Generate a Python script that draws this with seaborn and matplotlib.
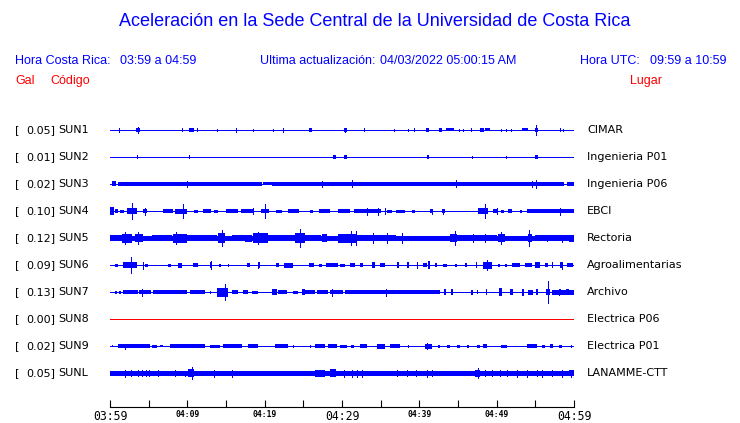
import matplotlib
matplotlib.use("Agg")
import matplotlib.pyplot as plt
import seaborn as sns

# station info
codes = ["SUN1", "SUN2", "SUN3", "SUN4", "SUN5", "SUN6", "SUN7", "SUN8", "SUN9", "SUNL"]
peaks = ["0.05", "0.01", "0.02", "0.10", "0.12", "0.09", "0.13", "0.00", "0.02", "0.05"]
places = ["CIMAR", "Ingenieria P01", "Ingenieria P06", "EBCI", "Rectoria",
          "Agroalimentarias", "Archivo", "Electrica P06", "Electrica P01", "LANAMME-CTT"]
tick_labels = ["03:59", "04:09", "04:19", "04:29", "04:39", "04:49", "04:59"]

# trace envelopes: blocks (start min, end min, half amp px), spikes (min, half amp px)
sun1_blocks = [(3.4, 3.9, 2), (10.2, 10.9, 2), (25.7, 26.1, 2), (30.2, 30.6, 2), (40.9, 41.3, 2),
               (42.5, 42.9, 2), (43.5, 44.5, 1.5), (47.9, 48.3, 2), (48.5, 49.1, 1.5),
               (53.3, 54.0, 1.5), (54.9, 55.4, 2)]
sun1_spikes = [(1.2, 2), (3.6, 3), (9.3, 1.5), (11.2, 1.5), (13.8, 1), (16.3, 2), (18.5, 1),
               (21.1, 1), (22.4, 2), (30.4, 2), (32.8, 1.5), (36.7, 1), (38.5, 1), (39.3, 1.5),
               (45.1, 1), (45.6, 1), (46.7, 1.5), (50.6, 1), (51.2, 1), (51.8, 1), (55.1, 5),
               (58.2, 1.5), (58.6, 1)]
sun2_blocks = [(28.8, 29.2, 2), (30.3, 30.6, 2), (41.0, 41.3, 2), (55.0, 55.3, 2)]
sun2_spikes = [(3.5, 1.5), (10.2, 1.5), (46.8, 1), (51.2, 1)]
sun3_blocks = [(0.3, 0.8, 2.5), (1.0, 19.6, 2), (19.8, 20.9, 1.5), (21.0, 58.7, 2), (59.1, 60.0, 2)]
sun3_spikes = [(10.0, 3), (27.4, 3), (31.3, 3.5), (44.7, 3.5), (54.6, 3), (55.1, 4)]
sun4_blocks = [(0.0, 0.5, 4), (0.6, 1.0, 2), (1.3, 1.8, 1.5), (2.2, 3.5, 3), (4.3, 4.8, 2),
               (6.8, 8.1, 2), (8.4, 10.0, 2.5), (10.8, 11.4, 1.5), (12.0, 13.0, 2), (13.4, 14.0, 1.5),
               (15.0, 16.5, 2), (17.0, 18.5, 2), (19.5, 20.5, 2), (21.5, 22.3, 1.5), (23.0, 24.5, 2),
               (25.8, 26.3, 1.5), (27.0, 28.5, 2), (29.5, 31.0, 2), (31.5, 35.0, 2), (35.8, 36.5, 1.5),
               (37.0, 38.2, 1.5), (39.0, 39.5, 1.5), (41.4, 41.8, 2), (42.9, 43.3, 2),
               (47.6, 48.9, 3), (49.5, 50.2, 2), (50.5, 51.0, 1.5), (51.5, 52.0, 2),
               (53.0, 53.3, 1.5), (53.9, 60.0, 2)]
sun4_spikes = [(2.8, 8), (4.5, 3.5), (9.4, 7), (18.5, 3), (20.1, 7), (33.2, 3.5), (34.7, 3.5),
               (35.6, 3), (41.6, 2.5), (43.1, 2.5), (48.5, 7), (50.0, 3), (58.2, 3.5)]
sun5_blocks = [(0.0, 60.0, 2.5), (0.0, 1.5, 3), (1.5, 2.8, 4.5), (3.2, 4.3, 4), (5.4, 8.0, 3),
               (8.1, 9.9, 4.5), (9.9, 13.9, 3), (14.0, 14.9, 5), (15.8, 17.5, 3), (17.5, 18.4, 3.5),
               (18.5, 20.4, 5), (20.4, 23.9, 3), (23.9, 25.2, 5), (25.2, 27.3, 3), (27.4, 28.1, 4),
               (29.5, 31.9, 4.5), (31.9, 37.0, 3), (44.0, 44.9, 4), (44.9, 50.0, 3),
               (50.2, 51.1, 4), (51.1, 53.8, 2.5), (54.0, 54.6, 4), (55.0, 60.0, 3), (59.3, 60.0, 3.5)]
sun5_spikes = [(1.9, 6), (3.6, 6), (8.5, 6), (14.5, 8), (19.2, 6), (24.6, 9), (31.2, 7), (31.8, 7),
               (34.0, 5), (35.8, 5), (37.7, 5), (44.6, 7), (46.9, 4), (48.5, 4), (50.6, 6),
               (54.2, 8), (56.5, 3), (58.5, 3.5)]
sun6_blocks = [(0.6, 1.0, 1.5), (1.7, 3.5, 3), (4.5, 4.9, 1.5), (7.5, 7.9, 1.5), (8.8, 9.3, 2.5),
               (10.7, 11.4, 2), (12.9, 13.2, 3), (14.1, 14.3, 1.5), (15.2, 15.4, 1.5), (17.7, 18.1, 2),
               (19.1, 19.4, 3), (21.5, 21.9, 2), (22.5, 23.7, 2.5), (25.7, 26.4, 2), (27.0, 27.4, 1.5),
               (27.9, 29.5, 2), (29.7, 30.4, 1.5), (31.0, 31.7, 2), (32.3, 32.7, 2), (33.9, 34.3, 3),
               (34.9, 35.6, 2), (37.1, 37.4, 3), (38.4, 38.7, 3), (40.5, 41.0, 2), (41.1, 41.4, 4),
               (42.0, 42.3, 2), (43.1, 43.6, 1.5), (44.6, 44.9, 1.5), (45.9, 46.2, 2), (47.3, 47.5, 3),
               (48.2, 49.4, 3.5), (50.2, 50.4, 1.5), (51.1, 51.3, 1.5), (52.0, 53.0, 2), (53.7, 54.6, 2),
               (55.0, 55.6, 3), (56.2, 56.6, 2), (57.1, 57.3, 3), (58.2, 58.6, 3), (59.1, 59.9, 2)]
sun6_spikes = [(2.7, 8), (4.3, 3.5), (13.0, 4), (19.2, 3), (39.7, 3), (48.8, 5), (58.4, 3.5)]
sun7_blocks = [(0.6, 0.9, 1.5), (1.2, 1.4, 1.5), (1.7, 3.6, 2), (3.8, 5.3, 2), (5.6, 10.0, 2),
               (10.3, 12.3, 2), (12.9, 13.1, 1.5), (13.8, 15.2, 4.5), (15.8, 16.6, 2), (17.2, 17.8, 2),
               (18.4, 19.1, 1.5), (21.0, 21.6, 3), (21.7, 22.9, 2), (23.7, 24.3, 1.5), (24.8, 25.2, 3),
               (25.2, 26.5, 2), (26.8, 28.2, 2), (28.4, 30.1, 2), (30.4, 42.7, 2), (43.2, 43.5, 3),
               (44.1, 44.3, 3), (46.7, 46.9, 2.5), (47.4, 47.6, 2), (48.6, 48.8, 3), (50.3, 50.7, 4),
               (51.7, 52.1, 3), (53.3, 53.5, 3.5), (54.0, 54.7, 2.5), (55.1, 55.3, 3), (56.4, 56.9, 3),
               (57.2, 60.0, 2.5), (58.0, 58.3, 3), (59.0, 59.3, 3)]
sun7_spikes = [(4.1, 3.5), (14.9, 8), (28.7, 3.5), (35.7, 3.5), (56.6, 11), (58.1, 3)]
sun8_blocks = []
sun8_spikes = []
sun9_blocks = [(0.3, 0.4, 1), (1.0, 5.2, 2), (5.4, 6.1, 1.5), (6.5, 6.9, 1), (7.8, 12.3, 2),
               (12.9, 14.2, 1.5), (14.6, 17.1, 2), (17.8, 19.1, 2), (21.3, 23.0, 2), (23.6, 23.8, 1.5),
               (25.8, 26.0, 1.5), (26.5, 27.8, 2), (28.2, 29.4, 2), (29.7, 30.6, 1.5), (31.2, 31.6, 1.5),
               (32.3, 33.2, 2), (34.5, 35.6, 2.5), (36.2, 37.5, 2), (38.5, 38.7, 1.5), (40.7, 41.6, 2.5),
               (42.4, 42.7, 1.5), (43.6, 44.0, 1.5), (44.9, 45.3, 1.5), (46.2, 46.4, 1.5),
               (47.4, 47.8, 1.5), (48.2, 48.7, 2), (50.6, 51.3, 1.5), (53.9, 55.2, 2), (55.8, 56.2, 1.5),
               (56.9, 57.3, 2), (58.1, 58.4, 1.5), (59.6, 59.8, 1.5)]
sun9_spikes = [(1.9, 2.5), (41.0, 3)]
sunl_blocks = [(0.0, 60.0, 2.5), (10.1, 10.8, 4), (26.5, 27.8, 3.5), (28.5, 29.2, 4), (47.2, 47.9, 3.5),
               (59.3, 60.0, 3)]
sunl_spikes = [(1.9, 3.5), (2.7, 3), (3.6, 3), (4.1, 3), (4.6, 3), (5.1, 3), (6.2, 3), (8.4, 3),
               (9.7, 2.5), (10.6, 6), (13.4, 3.5), (15.8, 3.5), (30.2, 3.5), (31.3, 3.5), (32.0, 3.5),
               (32.6, 3.5), (37.1, 3), (38.4, 3), (39.6, 3), (41.0, 3.5), (41.6, 3), (47.6, 5),
               (48.5, 3), (49.4, 3), (50.4, 3), (51.3, 3), (52.6, 3.5), (53.9, 3.5), (55.2, 3),
               (55.9, 3.5), (57.2, 3), (58.4, 3.5), (59.6, 3.5)]

blocks = [sun1_blocks, sun2_blocks, sun3_blocks, sun4_blocks, sun5_blocks,
          sun6_blocks, sun7_blocks, sun8_blocks, sun9_blocks, sunl_blocks]
spikes = [sun1_spikes, sun2_spikes, sun3_spikes, sun4_spikes, sun5_spikes,
          sun6_spikes, sun7_spikes, sun8_spikes, sun9_spikes, sunl_spikes]
trace_colors = ["blue"] * 7 + ["red"] + ["blue"] * 2

sns.set_theme(style="white")
plt.rcParams["font.family"] = ["DejaVu Sans"]
plt.rcParams["text.color"] = "black"

W, H = 740, 423
fig = plt.figure(figsize=(7.4, 4.23), dpi=100)
fig.patch.set_facecolor("white")

# axes in pixel-like units so amplitudes stay in px
ax = fig.add_axes([110 / W, 1 - 407 / H, 464 / W, 292 / H])
ax.set_xlim(0, 60)
ax.set_ylim(407, 115)
ax.set_facecolor("white")

row0, gap = 130, 27
for i in range(len(codes)):
    y = row0 + gap * i
    c = trace_colors[i]
    ax.hlines(y, 0, 60, color=c, lw=0.72, antialiased=False)
    for t0, t1, a in blocks[i]:
        ax.broken_barh([(t0, t1 - t0)], (y - a, 2 * a), facecolors=c, edgecolor="none",
                       antialiased=False)
    for t, a in spikes[i]:
        ax.vlines(t, y - a, y + a, color=c, lw=0.72, antialiased=False)
    # left and right labels
    yf = 1 - y / H
    fig.text(15 / W, yf, "[", fontsize=8, va="center", ha="left", color="black")
    fig.text(55 / W, yf, peaks[i] + "]", fontsize=8, va="center", ha="right", color="black")
    fig.text(58 / W, yf, codes[i], fontsize=8, va="center", ha="left", color="black")
    fig.text(587 / W, yf, places[i], fontsize=8, va="center", ha="left", color="black")

sns.despine(ax=ax, left=True, top=True, right=True)
ax.spines["bottom"].set_color("black")
ax.spines["bottom"].set_linewidth(0.8)
ax.set_yticks([])
ax.set_xticks(range(0, 61, 5))
labels = []
for k in range(13):
    labels.append(tick_labels[k // 2] if k % 2 == 0 else "")
ax.set_xticklabels(labels)
ax.tick_params(axis="x", direction="in", length=4.8, width=0.8, color="black", pad=2.5,
               bottom=True, labelcolor="black")
for k, lab in enumerate(ax.get_xticklabels()):
    lab.set_fontfamily("DejaVu Sans Mono")
    if k % 6 == 0:
        lab.set_fontsize(8.3)
    else:
        lab.set_fontsize(5.8)
        lab.set_fontweight("bold")

# header
hf = "Liberation Sans"
fig.text(375 / W, 1 - 22 / H, "Aceleración en la Sede Central de la Universidad de Costa Rica",
         fontsize=13, color="blue", ha="center", va="center", family=hf)
fig.text(15 / W, 1 - 61 / H, "Hora Costa Rica:", fontsize=9, color="blue", va="center", family=hf)
fig.text(120 / W, 1 - 61 / H, "03:59 a 04:59", fontsize=9, color="blue", va="center", family=hf)
fig.text(260 / W, 1 - 61 / H, "Ultima actualización:", fontsize=9, color="blue", va="center", family=hf)
fig.text(380 / W, 1 - 61 / H, "04/03/2022 05:00:15 AM", fontsize=9, color="blue", va="center", family=hf)
fig.text(580 / W, 1 - 61 / H, "Hora UTC:", fontsize=9, color="blue", va="center", family=hf)
fig.text(650 / W, 1 - 61 / H, "09:59 a 10:59", fontsize=9, color="blue", va="center", family=hf)
fig.text(15 / W, 1 - 81 / H, "Gal", fontsize=9, color="red", va="center", family=hf)
fig.text(50 / W, 1 - 81 / H, "Código", fontsize=9, color="red", va="center", family=hf)
fig.text(630 / W, 1 - 81 / H, "Lugar", fontsize=9, color="red", va="center", family=hf)

fig.savefig("out.png", dpi=100, facecolor="white")
